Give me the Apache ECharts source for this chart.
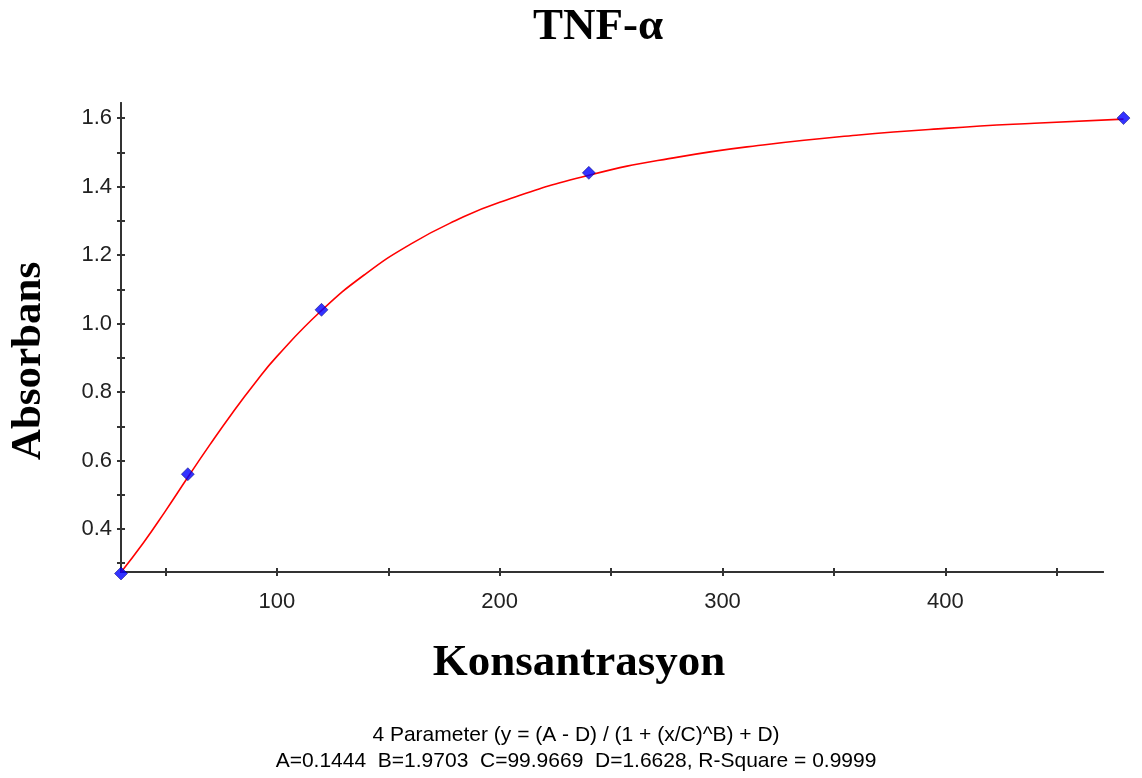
<!DOCTYPE html>
<html>
<head>
<meta charset="utf-8">
<script src="https://cdn.jsdelivr.net/npm/echarts@6/dist/echarts.min.js"></script>
<style>
html,body{margin:0;padding:0;background:#fff;}
#chart{width:1142px;height:778px;}
</style>
</head>
<body>
<div id="chart"></div>
<script>
// Measured standards (concentration, absorbance)
const stdX = [30, 60, 120, 240, 480];
const stdY = [0.27, 0.56, 1.04, 1.44, 1.60];
// Fitted curve
const curveX = [30, 40, 50, 60, 70, 80, 90, 100, 120, 140, 160, 180, 200, 240, 280, 320, 360, 400, 440, 480];
const curveY = [0.274, 0.359, 0.453, 0.551, 0.647, 0.739, 0.825, 0.904, 1.038, 1.146, 1.232, 1.300, 1.354, 1.433, 1.486, 1.523, 1.550, 1.570, 1.585, 1.597];
// Axis ticks and labels
const xTicks = [50, 100, 150, 200, 250, 300, 350, 400, 450];
const xLabels = [100, 200, 300, 400];
const yTicks = [0.3, 0.4, 0.5, 0.6, 0.7, 0.8, 0.9, 1.0, 1.1, 1.2, 1.3, 1.4, 1.5, 1.6];
const yLabels = [0.4, 0.6, 0.8, 1.0, 1.2, 1.4, 1.6];

const chartTitle = 'TNF-α';
const xName = 'Konsantrasyon';
const yName = 'Absorbans';
const note1 = '4 Parameter (y = (A - D) / (1 + (x/C)^B) + D)';
const note2 = 'A=0.1444  B=1.9703  C=99.9669  D=1.6628, R-Square = 0.9999';

const W = 1142;
const gLeft = 121, gRight = 39, gTop = 103, gBottom = 206;
const xMin = 30, xMax = 470.8, yMin = 0.2744, yMax = 1.644;
// plotting grid extends further right so the last standard can sit past the axis end
const gRight2 = 12;
const pxPerUnit = (W - gLeft - gRight) / (xMax - xMin);
const xMax2 = xMin + (W - gLeft - gRight2) / pxPerUnit;

const axisColor = '#333';
const serif = '"Liberation Serif","Times New Roman",serif';
const sans = '"Liberation Sans",Arial,sans-serif';

const chart = echarts.init(document.getElementById('chart'), null, {renderer: 'canvas'});

function xAxisDef(gi, inside, showLabel) {
  return {
    type: 'value', gridIndex: gi, min: xMin, max: xMax, position: 'bottom',
    axisLine: {show: true, lineStyle: {color: axisColor, width: 2}},
    axisTick: {show: true, inside: inside, length: 4, customValues: xTicks, lineStyle: {color: axisColor, width: 2}},
    axisLabel: {show: showLabel, customValues: xLabels, fontFamily: sans, fontSize: 22, color: '#222', margin: 19},
    splitLine: {show: false}
  };
}
function yAxisDef(gi, inside, showLabel) {
  return {
    type: 'value', gridIndex: gi, min: yMin, max: yMax, position: 'left',
    axisLine: {show: true, lineStyle: {color: axisColor, width: 2}},
    axisTick: {show: true, inside: inside, length: 4, customValues: yTicks, lineStyle: {color: axisColor, width: 2}},
    axisLabel: {show: showLabel, customValues: yLabels, fontFamily: sans, fontSize: 22, color: '#222', margin: 9,
      formatter: v => v.toFixed(1)},
    splitLine: {show: false}
  };
}

chart.setOption({
  backgroundColor: '#fff',
  animation: false,
  grid: [
    {left: gLeft, right: gRight, top: gTop, bottom: gBottom},
    {left: gLeft, right: gRight, top: gTop, bottom: gBottom},
    {left: gLeft, right: gRight2, top: gTop, bottom: gBottom}
  ],
  xAxis: [
    xAxisDef(0, false, true),
    xAxisDef(1, true, false),
    {type: 'value', gridIndex: 2, min: xMin, max: xMax2, show: false}
  ],
  yAxis: [
    yAxisDef(0, false, true),
    yAxisDef(1, true, false),
    {type: 'value', gridIndex: 2, min: yMin, max: yMax, show: false}
  ],
  graphic: [
    {type: 'text', x: 598, y: 5,
     style: {text: chartTitle, font: 'bold 45px ' + serif, fill: '#000', align: 'center', verticalAlign: 'top'}},
    {type: 'text', x: 579, y: 641,
     style: {text: xName, font: 'bold 45px ' + serif, fill: '#000', align: 'center', verticalAlign: 'top'}},
    {type: 'text', x: 29, y: 361, rotation: Math.PI / 2, originX: 0, originY: 0,
     style: {text: yName, font: 'bold 43px ' + serif, fill: '#000', align: 'center', verticalAlign: 'middle'}},
    {type: 'text', x: 576, y: 735,
     style: {text: note1, font: '21px ' + sans, fill: '#000', align: 'center', verticalAlign: 'middle'}},
    {type: 'text', x: 576, y: 761,
     style: {text: note2, font: '21px ' + sans, fill: '#000', align: 'center', verticalAlign: 'middle'}}
  ],
  series: [
    {type: 'line', xAxisIndex: 2, yAxisIndex: 2, clip: false, smooth: true, showSymbol: false, symbol: 'none',
     data: curveX.map((x, i) => [x, curveY[i]]),
     lineStyle: {color: '#ff0000', width: 1.6}, z: 2},
    {type: 'scatter', xAxisIndex: 2, yAxisIndex: 2, clip: false, symbol: 'diamond', symbolSize: 13,
     data: stdX.map((x, i) => [x, stdY[i]]),
     itemStyle: {color: '#0000ff', borderColor: '#000066', borderWidth: 0.6}, z: 3}
  ]
});
</script>
</body>
</html>
